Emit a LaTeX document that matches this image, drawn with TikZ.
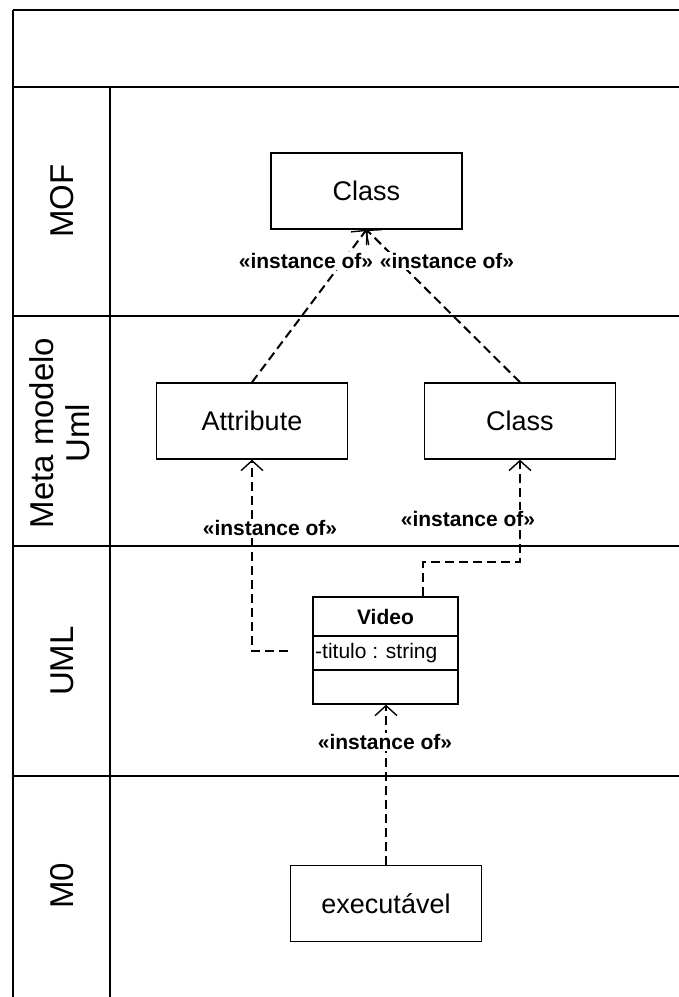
\documentclass[tikz,border=0pt]{standalone}
\usepackage{fontspec}
\setmainfont{Liberation Sans}
\usetikzlibrary{arrows.meta}

\begin{document}
\begin{tikzpicture}[x=1pt,y=-1pt,
  frame/.style={line width=2.2pt,black},
  lanediv/.style={line width=1.6pt,black},
  lanelabel/.style={rotate=90,align=center,font=\fontsize{33}{36}\selectfont},
  classbox/.style={draw,line width=1.4pt,minimum width=191pt,minimum height=76pt,
    inner sep=0pt,font=\fontsize{27}{30}\selectfont},
  dep/.style={line width=2pt,dash pattern=on 9pt off 5pt,
    -{Straight Barb[length=10pt,width=22pt,line width=1.4pt]}},
  stereo/.style={fill=white,inner sep=1pt,font=\bfseries\fontsize{21}{24}\selectfont}
]
\useasboundingbox (0,0) rectangle (679,997);

% swimlane frame
\draw[frame] (13,10) -- (679,10);
\draw[frame] (13,87) -- (679,87);
\draw[frame] (13,316) -- (679,316);
\draw[frame] (13,546) -- (679,546);
\draw[frame] (13,776) -- (679,776);
\draw[frame] (13,10) -- (13,997);
\draw[lanediv] (110,87) -- (110,997);

% lane titles
\node[lanelabel] (lmof) at (62,201) {MOF};
\node[lanelabel] (lmeta) at (60,433) {Meta modelo\\Uml};
\node[lanelabel] (luml) at (62,661) {UML};
\node[lanelabel] (lm0) at (62,886) {M0};

% classes
\node[classbox] (classMOF) at (366.5,191) {Class};
\node[classbox] (attr) at (252,421) {Attribute};
\node[classbox] (classUml) at (520,421) {Class};
\node[classbox] (exec) at (386,903.5) {executável};

% UML class Video with its compartments
\node[draw,line width=1.4pt,minimum width=145pt,minimum height=107pt,inner sep=0pt]
  (video) at (385.5,650.5) {};
\draw[line width=1.4pt] (313,636) -- (458,636);
\draw[line width=1.4pt] (313,670) -- (458,670);
\node[font=\bfseries\fontsize{21}{24}\selectfont] (vname) at (385.5,616.5) {Video};
\node[anchor=west,inner sep=0pt,font=\fontsize{21}{24}\selectfont] (vattr) at (315,653) {-titulo : string};

% instance-of dependencies
\draw[dep] (attr.north) -- (classMOF.south);
\draw[dep] (classUml.north) -- (classMOF.south);
\draw[dep,shorten <=24pt] (video.west) -| (attr.south);
\draw[dep] ([xshift=37.5pt]video.north) -- ++(0,-34) -| (classUml.south);
\draw[dep] (exec.north) -- (exec.north |- video.south);

% stereotype labels
\node[stereo] (s1) at (306,261) {«instance of»};
\node[stereo] (s2) at (447,261) {«instance of»};
\node[stereo] (s3) at (270,528) {«instance of»};
\node[stereo] (s4) at (468,519) {«instance of»};
\node[stereo] (s5) at (385,742) {«instance of»};
\end{tikzpicture}
\end{document}
